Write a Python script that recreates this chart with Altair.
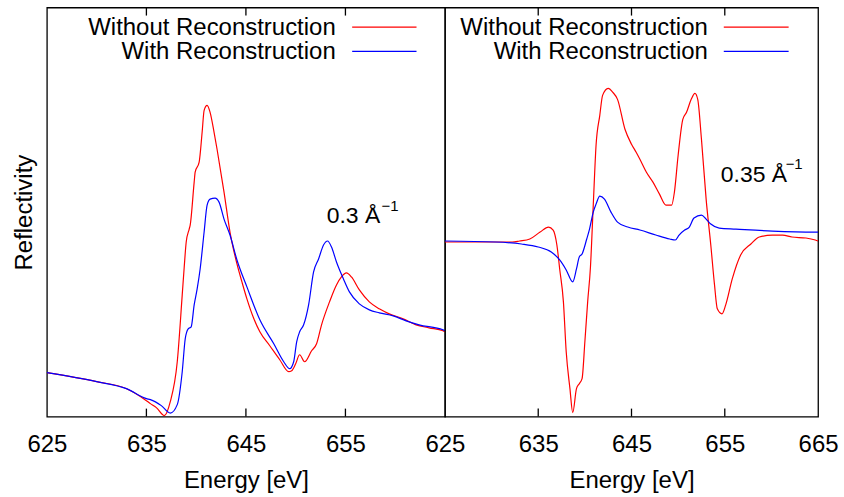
import altair as alt
import pandas as pd

# ---------------- data (arbitrary reflectivity units) ----------------
left_red_e = [625.0, 630.0, 633.0, 635.0, 635.4, 636.0, 636.8, 637.4, 638.1, 638.6, 638.8, 639.0,
              639.3, 639.4, 639.8, 639.9, 640.3, 640.6, 640.8, 641.1, 641.4, 641.8, 642.1, 642.8,
              643.4, 644.1, 644.6, 645.1, 645.8, 646.4, 647.4, 648.4, 649.3, 649.6, 650.0, 650.4,
              650.9, 651.6, 652.1, 652.6, 653.4, 654.1, 654.6, 655.1, 655.6, 656.4, 657.4, 658.4,
              659.4, 660.8, 662.1, 663.4, 664.8, 665.0]
left_red_v = [44, 35, 28, 16, 13, 9, 1, 15, 55, 122, 150, 175,
              188, 192, 235, 245, 255, 285, 307, 312, 305, 285, 268, 225,
              185, 153, 135, 118, 98, 85, 71, 57, 45, 46, 53, 62,
              55, 66, 73, 92, 115, 132, 140, 144, 140, 127, 115, 108,
              103, 98, 92, 89, 86, 85]

left_blue_e = [625.0, 630.0, 633.0, 635.0, 635.4, 636.5, 637.4, 638.1, 638.6, 638.9, 639.2, 639.5,
               639.8, 640.1, 640.4, 640.8, 641.1, 641.4, 641.9, 642.3, 642.8, 643.4, 644.1, 645.1,
               646.4, 647.8, 648.8, 649.4, 649.8, 650.1, 650.4, 650.8, 651.3, 651.8, 652.3, 652.8,
               653.2, 653.6, 654.1, 654.8, 655.4, 656.4, 657.4, 658.4, 659.8, 661.1, 662.4, 664.8,
               665.0]
left_blue_v = [44, 35, 28, 18, 17, 11, 3.5, 12, 45, 78, 88, 90,
               112, 128, 148, 185, 212, 218, 219, 215, 198, 182, 157, 130,
               97, 73, 55, 48, 55, 75, 85, 92, 112, 145, 158, 172,
               176, 170, 155, 138, 125, 113, 107, 104, 101, 96, 92, 87,
               86]

right_red_e = [625.0, 630.4, 632.2, 633.0, 634.1, 635.2, 636.1, 636.6, 637.0, 637.3, 637.7, 638.0,
               638.4, 638.7, 639.1, 639.4, 639.7, 640.0, 640.3, 640.6, 640.9, 641.2, 641.6, 641.9,
               642.5, 643.0, 643.5, 644.3, 645.0, 645.5, 645.9, 646.6, 647.3, 648.0, 648.7, 649.3,
               649.6, 650.0, 650.5, 650.9, 651.4, 651.8, 652.1, 652.5, 653.0, 653.5, 653.9, 654.2,
               654.7, 655.1, 655.8, 656.7, 657.8, 658.7, 660.1, 661.2, 662.2, 663.7, 664.7, 665.0]
right_red_v = [175, 175, 175, 176, 178, 185, 190, 187, 172, 148, 115, 65,
               28, 4, 28, 33, 38, 75, 115, 150, 212, 272, 302, 322,
               329, 325, 318, 288, 273, 265, 258, 245, 235, 223, 212, 212,
               225, 262, 298, 305, 318, 324, 318, 278, 218, 172, 132, 108,
               103, 112, 138, 162, 173, 180, 182, 182, 180, 179, 177, 176]

right_blue_e = [625.0, 630.4, 633.2, 635.0, 636.4, 637.3, 638.0, 638.7, 639.1, 639.4, 639.7, 640.2,
                640.5, 640.9, 641.2, 641.6, 642.1, 642.8, 643.5, 644.6, 645.9, 647.6, 649.1, 649.7,
                650.1, 650.7, 651.2, 651.7, 652.5, 653.0, 653.5, 654.4, 656.2, 660.1, 664.7, 665.0]
right_blue_v = [176, 175, 173, 170, 165, 157, 147, 135, 148, 160, 163, 178,
                188, 205, 213, 221, 218, 205, 195, 190, 187, 182, 178, 177,
                182, 187, 190, 199, 202, 198, 193, 189, 188, 186, 185, 185]

series_names = ["Without Reconstruction", "With Reconstruction"]
series_colors = ["#ff0000", "#0000ff"]
left_tick_labels = [625, 635, 645, 655]
right_tick_labels = [625, 635, 645, 655, 665]
minor_ticks = [635, 645, 655]
panel_labels = ["0.3 Å", "0.35 Å"]

FONT = "Liberation Sans"
FS = 24
FS_ANN = 23
Y_MAX = 410
TICK_LEN = 8


def frame(e_red, v_red, e_blue, v_blue):
    return pd.concat([
        pd.DataFrame({"E": e_red, "R": v_red, "s": series_names[0]}),
        pd.DataFrame({"E": e_blue, "R": v_blue, "s": series_names[1]}),
    ])


def panel(df, width, tick_values, show_y, leg_text_x, leg_line_x, ann_x, ann_y, sup_x, sup_y, label):
    H = 410
    xscale = alt.Scale(domain=[625, 665], nice=False, zero=False)
    yscale = alt.Scale(domain=[0, Y_MAX], nice=False, zero=False)
    xaxis = alt.Axis(values=tick_values, ticks=False, tickSize=0, domain=False, grid=False,
                     labelFontSize=FS, labelFont=FONT, labelColor="black", labelPadding=16,
                     labelFlush=False, labelOverlap=False,
                     title="Energy [eV]", titleFontSize=FS, titleFont=FONT,
                     titleFontWeight="normal", titleColor="black", titlePadding=12)
    if show_y:
        yaxis = alt.Axis(labels=False, ticks=False, domain=False, grid=False,
                         title="Reflectivity", titleFontSize=FS, titleFont=FONT,
                         titleFontWeight="normal", titleColor="black", titlePadding=10)
    else:
        yaxis = None
    lines = alt.Chart(df).mark_line(strokeWidth=1.2, clip=True, interpolate="monotone").encode(
        x=alt.X("E:Q", scale=xscale, axis=xaxis),
        y=alt.Y("R:Q", scale=yscale, axis=yaxis),
        color=alt.Color("s:N", scale=alt.Scale(domain=series_names, range=series_colors), legend=None),
        order=alt.Order("E:Q"),
    )
    tdf = pd.DataFrame({"t": minor_ticks})
    ticks_bottom = alt.Chart(tdf).mark_rule(color="black", strokeWidth=1.3).encode(
        x=alt.X("t:Q", scale=xscale, axis=xaxis),
        y=alt.Y(datum=0, scale=yscale, axis=yaxis),
        y2=alt.Y2(datum=TICK_LEN))
    ticks_top = alt.Chart(tdf).mark_rule(color="black", strokeWidth=1.3).encode(
        x=alt.X("t:Q", scale=xscale, axis=xaxis),
        y=alt.Y(datum=Y_MAX - TICK_LEN, scale=yscale, axis=yaxis),
        y2=alt.Y2(datum=Y_MAX))
    one = pd.DataFrame({"a": [0]})
    layers = [lines, ticks_bottom, ticks_top]
    for i, (name, col) in enumerate(zip(series_names, series_colors)):
        yb = 27.5 + 24.5 * i
        layers.append(alt.Chart(one).mark_text(align="right", baseline="alphabetic", fontSize=FS,
                                               font=FONT, color="black").encode(
            x=alt.value(leg_text_x), y=alt.value(yb), text=alt.value(name)))
        layers.append(alt.Chart(one).mark_rule(color=col, strokeWidth=1.2).encode(
            x=alt.value(leg_line_x[0]), x2=alt.value(leg_line_x[1]), y=alt.value(yb - 8)))
    layers.append(alt.Chart(one).mark_text(align="left", baseline="alphabetic", fontSize=FS_ANN,
                                           font=FONT, color="black").encode(
        x=alt.value(ann_x), y=alt.value(ann_y), text=alt.value(label)))
    layers.append(alt.Chart(one).mark_text(align="left", baseline="alphabetic", fontSize=15,
                                           font=FONT, color="black").encode(
        x=alt.value(sup_x), y=alt.value(sup_y), text=alt.value("−1")))
    return alt.layer(*layers).properties(width=width, height=H)


left = panel(frame(left_red_e, left_red_v, left_blue_e, left_blue_v), 399, left_tick_labels, True,
             289.5, (306, 370.5), 280.5, 216, 335.5, 204, panel_labels[0])
right = panel(frame(right_red_e, right_red_v, right_blue_e, right_blue_v), 374, right_tick_labels, False,
              263.5, (279.5, 344.5), 276.5, 175, 341.5, 162, panel_labels[1])

chart = alt.hconcat(left, right, spacing=0, bounds="flush").properties(
    padding={"left": 12, "top": 5, "right": 5, "bottom": 5},
).configure(background="white", view=alt.ViewConfig(stroke="black", strokeWidth=1.3))

chart.save("out.html", embed_options={"renderer": "svg", "actions": False})
